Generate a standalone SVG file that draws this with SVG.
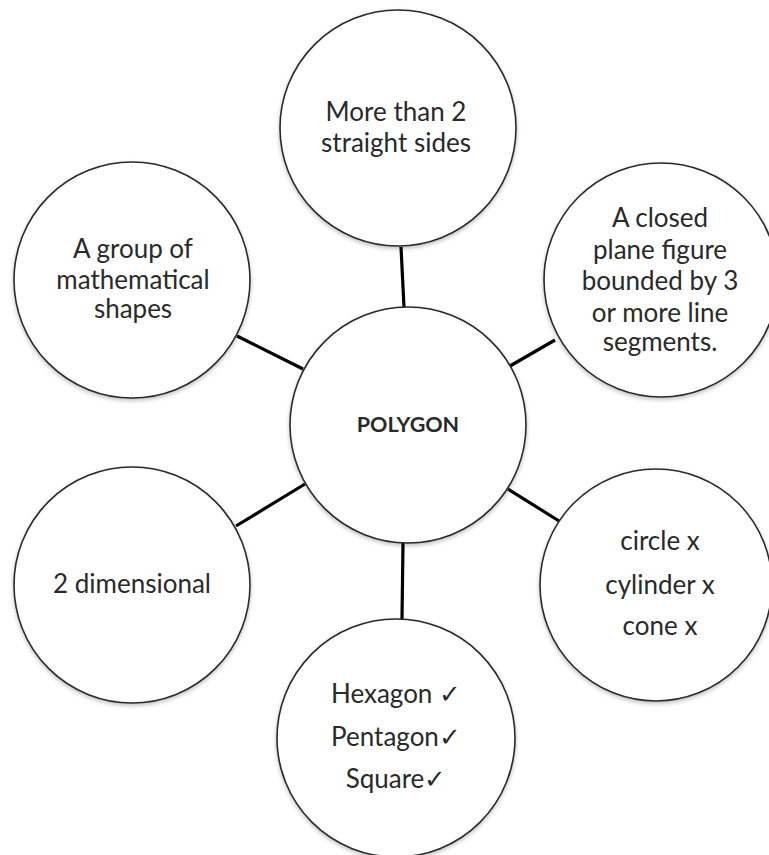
<svg xmlns="http://www.w3.org/2000/svg" width="769" height="855" viewBox="0 0 769 855">
<defs>
<style>
.node circle{fill:#fff;stroke:#2a2a2a;stroke-width:1.6;filter:url(#sh)}
.node text{font-family:Lato,"Liberation Sans",sans-serif;font-size:26px;fill:#2a2a2a;text-anchor:middle}
.node text.b{font-weight:bold;font-size:21.5px}
.conn line{stroke:#000;stroke-width:3.2;stroke-linecap:butt}
</style>
<filter id="sh" x="-10%" y="-10%" width="120%" height="125%">
<feGaussianBlur in="SourceAlpha" stdDeviation="2"/>
<feOffset dx="0" dy="2" result="b"/>
<feComponentTransfer><feFuncA type="linear" slope="0.25"/></feComponentTransfer>
<feMerge><feMergeNode/><feMergeNode in="SourceGraphic"/></feMerge>
</filter>
</defs>
<rect width="769" height="855" fill="#fff"/>
<g id="connectors" class="conn">
<line x1="401" y1="247" x2="404" y2="307"/>
<line x1="237" y1="336" x2="303" y2="369"/>
<line x1="510" y1="366" x2="555" y2="340"/>
<line x1="236" y1="526" x2="305" y2="484"/>
<line x1="508" y1="489" x2="559" y2="521"/>
<line x1="403" y1="543" x2="402" y2="619"/>
</g>
<g id="node-top" class="node">
<circle cx="398" cy="128" r="118"/>
<text x="396" y="121">More than 2</text>
<text x="396" y="152">straight sides</text>
</g>
<g id="node-topleft" class="node">
<circle cx="132" cy="280" r="118"/>
<text x="133" y="258">A group of</text>
<text x="133" y="289">mathematical</text>
<text x="133" y="318">shapes</text>
</g>
<g id="node-topright" class="node">
<circle cx="661" cy="280" r="117"/>
<text x="660" y="227">A closed</text>
<text x="660" y="259">plane figure</text>
<text x="660" y="290">bounded by 3</text>
<text x="660" y="322">or more line</text>
<text x="660" y="351">segments.</text>
</g>
<g id="node-center" class="node">
<circle cx="408" cy="425" r="118"/>
<text class="b" x="408" y="432">POLYGON</text>
</g>
<g id="node-bottomleft" class="node">
<circle cx="132" cy="585" r="118"/>
<text x="132" y="593">2 dimensional</text>
</g>
<g id="node-bottomright" class="node">
<circle cx="656" cy="585" r="116"/>
<text x="660" y="550">circle x</text>
<text x="660" y="594">cylinder x</text>
<text x="660" y="635">cone x</text>
</g>
<g id="node-bottom" class="node">
<circle cx="396" cy="738" r="119"/>
<text x="396" y="703">Hexagon ✓</text>
<text x="396" y="746">Pentagon✓</text>
<text x="396" y="788">Square✓</text>
</g>
</svg>
